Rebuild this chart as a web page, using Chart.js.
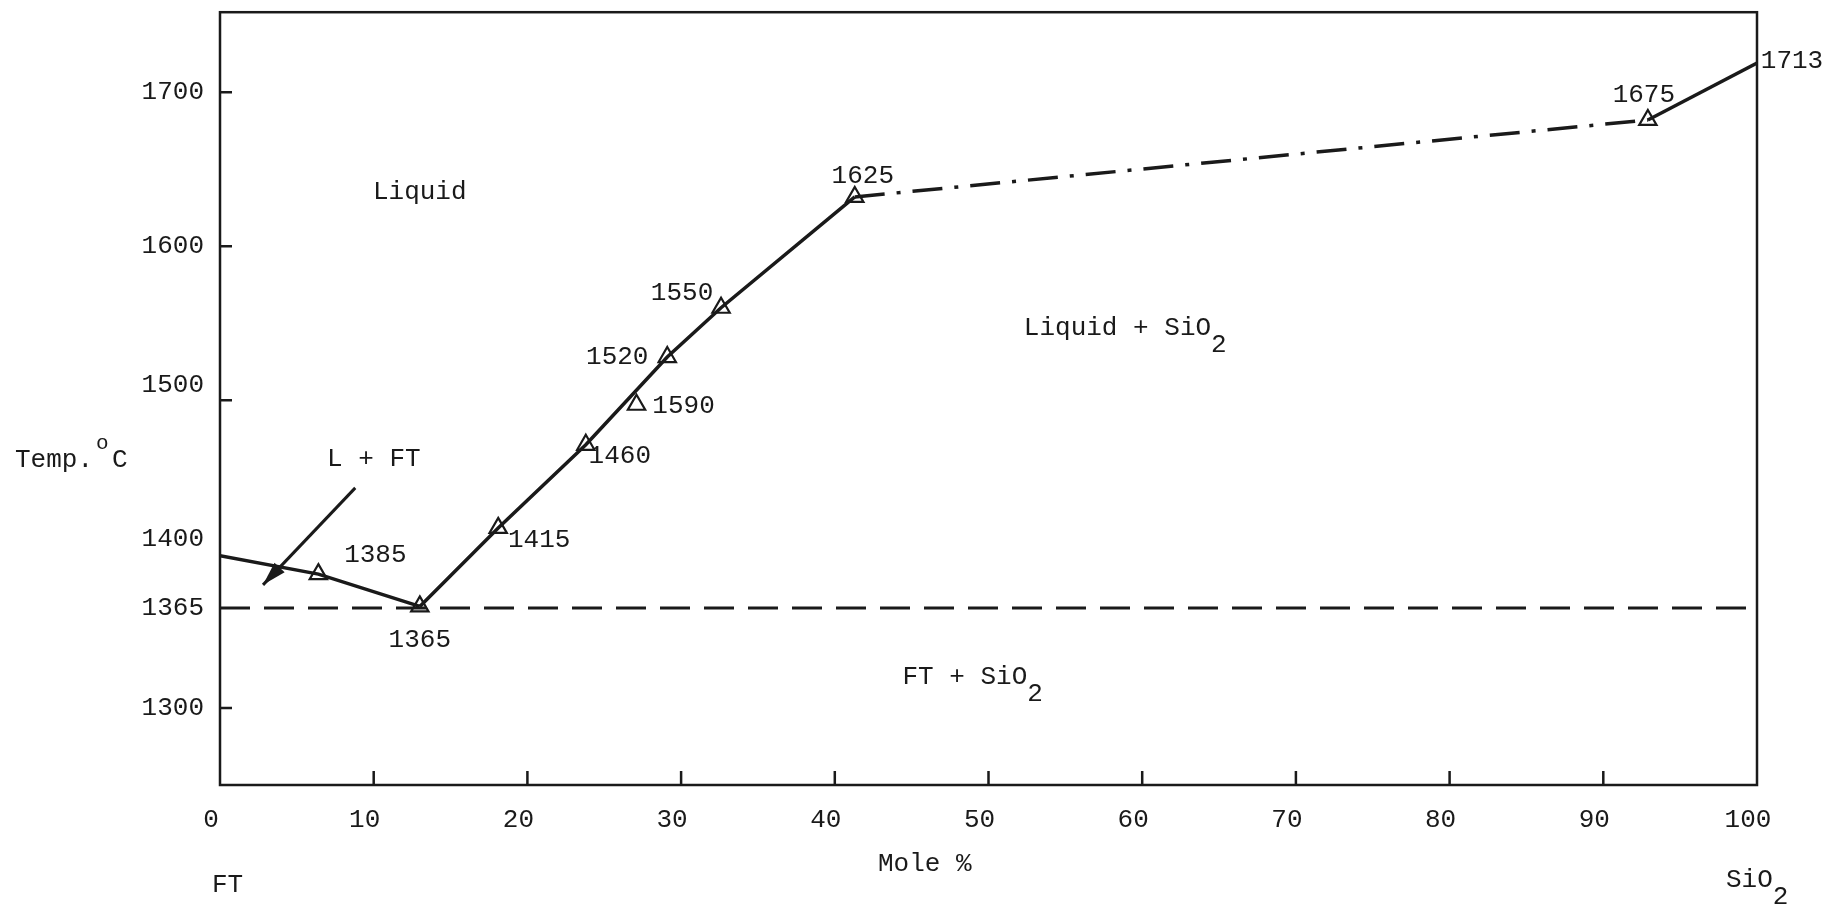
<!DOCTYPE html>
<html>
<head>
<meta charset="utf-8">
<script src="https://cdn.jsdelivr.net/npm/chart.js@4.4.1/dist/chart.umd.min.js"></script>
<style>
  html, body { margin: 0; padding: 0; background: #fff; }
  canvas { display: block; }
</style>
</head>
<body>
<canvas id="phase" width="1828" height="904"></canvas>
<script>
// FT - SiO2 phase diagram: temperature (deg C) vs mole % SiO2

const xTicks = [0, 10, 20, 30, 40, 50, 60, 70, 80, 90, 100];
const yTicks = [1300, 1365, 1400, 1500, 1600, 1700];
const raisedYTicks = [1400, 1500];   // these labels sit a bit above their tick
const innerYTicks = [1300, 1500, 1600, 1700];
const innerXTicks = [10, 20, 30, 40, 50, 60, 70, 80, 90];

// liquidus, FT side (pure FT down to the eutectic)
const ftSideX = [0, 6.4, 13.0];
const ftSideT = [1399, 1387, 1366];
// liquidus, silica side (eutectic up to the 1625 point)
const silicaSideX = [13.0, 18.1, 23.8, 29.1, 32.6, 41.3];
const silicaSideT = [1366, 1417, 1471, 1528, 1560, 1632];
// dash-dot part
const inferredX = [41.3, 92.9];
const inferredT = [1632, 1682];
// last piece up to SiO2
const silicaEndX = [92.9, 100];
const silicaEndT = [1682, 1719];
// solidus at 1365
const solidusX = [0, 100];
const solidusT = [1365, 1365];
// measured points (open triangles)
const measuredX = [6.4, 13.0, 18.1, 23.8, 27.1, 29.1, 32.6, 41.3, 92.9];
const measuredT = [1387, 1366, 1417, 1471, 1497, 1528, 1560, 1632, 1682];
const measuredLabels = ['1385', '1365', '1415', '1460', '1590', '1520', '1550', '1625', '1675'];
const endLabel = '1713';
// arrow into the L + FT field
const arrowX = [8.8, 2.8];
const arrowT = [1443, 1380];

// label offsets from their point, in px
const labelOffsets = [[57, -19], [0, 34], [41, 12], [34, 11], [47, 1], [-50, 0], [-39, -15], [8, -21], [-4, -25]];
const endLabelOffset = [35, -2];

const INK = '#1a1a1a';
const FONT = '"Liberation Mono", "DejaVu Sans Mono", monospace';
const FSIZE = 26;

const pts = (xs, ys) => xs.map((x, i) => ({ x: x, y: ys[i] }));

function lineSet(xs, ys, dash, width) {
  return {
    data: pts(xs, ys),
    showLine: true,
    borderColor: INK,
    borderWidth: width || 3.5,
    borderDash: dash || [],
    pointRadius: 0,
    fill: false,
    tension: 0
  };
}

// no extra room for tick labels, the frame is placed by hand
function noPad(s) {
  s.paddingTop = 0; s.paddingBottom = 0;
  s.paddingLeft = 0; s.paddingRight = 0;
}

// text, arrowhead, frame and inward ticks
const decor = {
  id: 'decor',
  afterDraw(chart) {
    const ctx = chart.ctx;
    const xs = chart.scales.x, ys = chart.scales.y;
    const a = chart.chartArea;
    ctx.save();
    ctx.strokeStyle = INK;
    ctx.fillStyle = INK;

    // frame
    ctx.lineWidth = 2.5;
    ctx.strokeRect(a.left, a.top, a.right - a.left, a.bottom - a.top);

    // ticks pointing inside
    ctx.beginPath();
    innerYTicks.forEach(v => {
      const y = ys.getPixelForValue(v);
      ctx.moveTo(a.left, y);
      ctx.lineTo(a.left + 12, y);
    });
    innerXTicks.forEach(v => {
      const x = xs.getPixelForValue(v);
      ctx.moveTo(x, a.bottom);
      ctx.lineTo(x, a.bottom - 14);
    });
    ctx.stroke();

    // arrowhead
    const x0 = xs.getPixelForValue(arrowX[0]), y0 = ys.getPixelForValue(arrowT[0]);
    const x1 = xs.getPixelForValue(arrowX[1]), y1 = ys.getPixelForValue(arrowT[1]);
    const ang = Math.atan2(y1 - y0, x1 - x0);
    const len = 24, half = 7;
    ctx.beginPath();
    ctx.moveTo(x1, y1);
    ctx.lineTo(x1 - len * Math.cos(ang) + half * Math.sin(ang), y1 - len * Math.sin(ang) - half * Math.cos(ang));
    ctx.lineTo(x1 - len * Math.cos(ang) - half * Math.sin(ang), y1 - len * Math.sin(ang) + half * Math.cos(ang));
    ctx.closePath();
    ctx.fill();

    ctx.font = FSIZE + 'px ' + FONT;
    ctx.textBaseline = 'middle';

    // point labels
    ctx.textAlign = 'center';
    measuredLabels.forEach((txt, i) => {
      const px = xs.getPixelForValue(measuredX[i]) + labelOffsets[i][0];
      const py = ys.getPixelForValue(measuredT[i]) + labelOffsets[i][1];
      ctx.fillText(txt, px, py);
    });
    const last = silicaEndX.length - 1;
    ctx.fillText(endLabel,
      xs.getPixelForValue(silicaEndX[last]) + endLabelOffset[0],
      ys.getPixelForValue(silicaEndT[last]) + endLabelOffset[1]);

    // field names, anchored in data space
    ctx.textAlign = 'left';
    const fields = [
      { text: 'Liquid', x: 9.95, t: 1635 },
      { text: 'L + FT', x: 6.96, t: 1462 },
      { text: 'Liquid + SiO', sub: '2', x: 52.3, t: 1547 },
      { text: 'FT + SiO', sub: '2', x: 44.4, t: 1320 }
    ];
    fields.forEach(f => {
      const px = xs.getPixelForValue(f.x), py = ys.getPixelForValue(f.t);
      ctx.fillText(f.text, px, py);
      if (f.sub) ctx.fillText(f.sub, px + ctx.measureText(f.text).width, py + 17);
    });

    // axis captions
    ctx.fillText('Temp.', 15, 460);
    ctx.fillText('C', 112, 460);
    ctx.fillText('Mole %', 878, 864);
    ctx.fillText('FT', 212, 885);
    ctx.fillText('SiO', 1726, 880);
    ctx.fillText('2', 1726 + ctx.measureText('SiO').width, 897);
    ctx.font = '21px ' + FONT;
    ctx.fillText('o', 96, 443);

    ctx.restore();
  }
};

new Chart(document.getElementById('phase'), {
  type: 'scatter',
  data: {
    datasets: [
      lineSet(solidusX, solidusT, [30, 14], 3),
      lineSet(ftSideX, ftSideT),
      lineSet(silicaSideX, silicaSideT),
      lineSet(inferredX, inferredT, [30, 12, 4, 12], 3.5),
      lineSet(silicaEndX, silicaEndT),
      lineSet(arrowX, arrowT, [], 3),
      {
        data: pts(measuredX, measuredT),
        showLine: false,
        pointStyle: 'triangle',
        pointRadius: 10,
        pointHoverRadius: 10,
        pointBackgroundColor: '#fff',
        pointBorderColor: INK,
        pointBorderWidth: 2.2
      }
    ]
  },
  options: {
    responsive: false,
    devicePixelRatio: 1,
    animation: false,
    layout: { padding: { top: 12, right: 71, left: 0, bottom: 0 } },
    plugins: { legend: { display: false }, tooltip: { enabled: false } },
    scales: {
      x: {
        type: 'linear',
        min: 0,
        max: 100,
        afterBuildTicks: s => { s.ticks = xTicks.map(v => ({ value: v })); },
        afterFit: s => { s.height = 119; noPad(s); },
        grid: { display: false, drawTicks: false },
        border: { display: false },
        ticks: {
          color: INK,
          font: { family: FONT, size: FSIZE },
          padding: 20,
          labelOffset: -9,
          maxRotation: 0,
          autoSkip: false,
          callback: v => String(v)
        }
      },
      y: {
        type: 'linear',
        min: 1250,
        max: 1752,
        afterBuildTicks: s => { s.ticks = yTicks.map(v => ({ value: v })); },
        afterFit: s => { s.width = 220; noPad(s); },
        grid: { display: false, drawTicks: false },
        border: { display: false },
        ticks: {
          color: INK,
          font: { family: FONT, size: FSIZE, lineHeight: 1.15 },
          padding: 16,
          autoSkip: false,
          // an empty second line lifts the label half a line
          callback: v => raisedYTicks.includes(v) ? [String(v), ''] : String(v)
        }
      }
    }
  },
  plugins: [decor]
});
</script>
</body>
</html>
